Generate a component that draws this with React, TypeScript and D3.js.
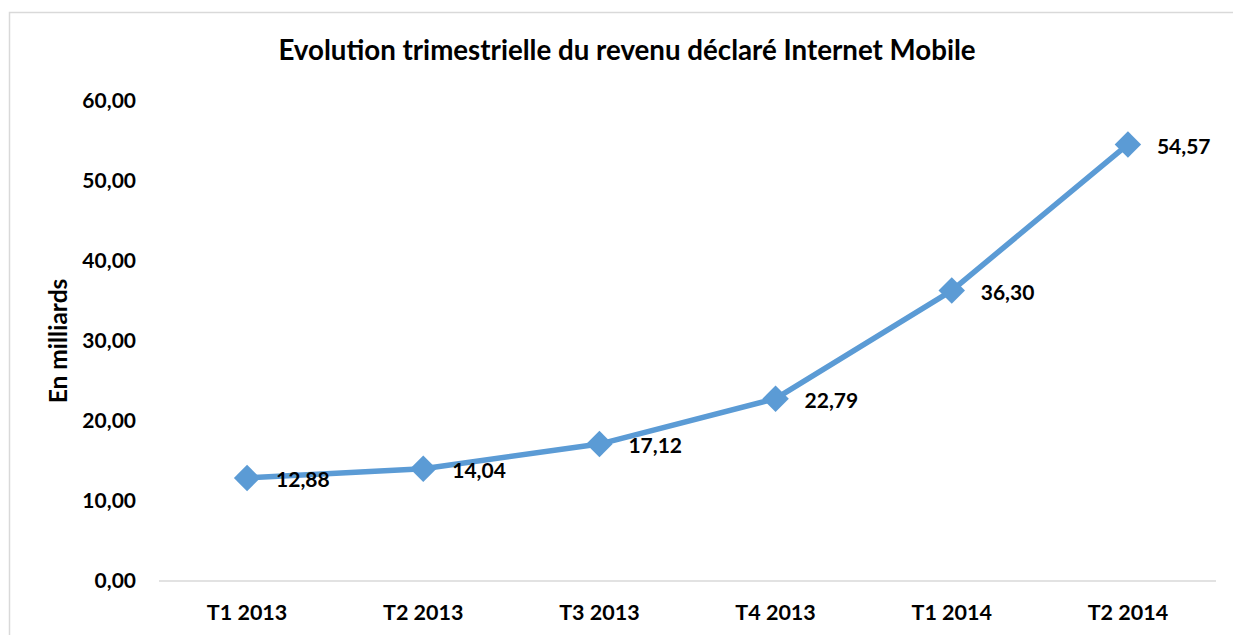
import * as d3 from "d3";
import React, { useEffect, useRef } from "react";

const categories = ["T1 2013", "T2 2013", "T3 2013", "T4 2013", "T1 2014", "T2 2014"];
const values = [12.88, 14.04, 17.12, 22.79, 36.3, 54.57];
const yTicks = [0, 10, 20, 30, 40, 50, 60];

const fmt = (v: number) => v.toFixed(2).replace(".", ",");

const App = () => {
  const ref = useRef<SVGSVGElement>(null);

  useEffect(() => {
    const width = 1233;
    const height = 635;
    const font = "Lato, 'Open Sans', sans-serif";
    const color = "#5B9BD5";

    const svg = d3.select(ref.current).attr("width", width).attr("height", height);
    svg.selectAll("*").remove();

    // chart frame (cropped on right and bottom)
    svg
      .append("rect")
      .attr("x", 9.5)
      .attr("y", 12.5)
      .attr("width", 1240)
      .attr("height", 660)
      .attr("fill", "#fff")
      .attr("stroke", "#d9d9d9")
      .attr("stroke-width", 1.5);

    const x = d3.scaleBand().domain(categories).range([159, 1216]);
    const y = d3.scaleLinear().domain([0, 60]).range([581, 101]);
    const cx = (c: string) => (x(c) as number) + x.bandwidth() / 2;

    svg
      .append("text")
      .attr("x", 627)
      .attr("y", 60)
      .attr("text-anchor", "middle")
      .attr("font-family", font)
      .attr("font-weight", "bold")
      .attr("font-size", 27.7)
      .text("Evolution trimestrielle du revenu déclaré Internet Mobile");

    // y tick labels
    svg
      .append("g")
      .selectAll("text")
      .data(yTicks)
      .join("text")
      .attr("x", 136)
      .attr("y", (d) => y(d))
      .attr("dy", "0.35em")
      .attr("text-anchor", "end")
      .attr("font-family", font)
      .attr("font-weight", "bold")
      .attr("font-size", 21)
      .text((d) => fmt(d));

    svg
      .append("text")
      .attr("transform", `translate(67, ${y(30)}) rotate(-90)`)
      .attr("text-anchor", "middle")
      .attr("font-family", font)
      .attr("font-weight", "bold")
      .attr("font-size", 24.5)
      .text("En milliards");

    // x axis line
    svg
      .append("line")
      .attr("x1", 159)
      .attr("x2", 1216)
      .attr("y1", y(0))
      .attr("y2", y(0))
      .attr("stroke", "#d9d9d9")
      .attr("stroke-width", 1.5);

    svg
      .append("g")
      .selectAll("text")
      .data(categories)
      .join("text")
      .attr("x", (d) => cx(d))
      .attr("y", 620)
      .attr("text-anchor", "middle")
      .attr("font-family", font)
      .attr("font-weight", "bold")
      .attr("font-size", 21.5)
      .text((d) => d);

    const line = d3
      .line<number>()
      .x((_, i) => cx(categories[i]))
      .y((d) => y(d));

    svg
      .append("path")
      .datum(values)
      .attr("d", line)
      .attr("fill", "none")
      .attr("stroke", color)
      .attr("stroke-width", 5.5)
      .attr("stroke-linejoin", "round");

    const diamond = d3.symbol().type(d3.symbolSquare).size(350);
    svg
      .append("g")
      .selectAll("path")
      .data(values)
      .join("path")
      .attr("d", diamond)
      .attr("transform", (d, i) => `translate(${cx(categories[i])}, ${y(d)}) rotate(45)`)
      .attr("fill", color);

    svg
      .append("g")
      .selectAll("text")
      .data(values)
      .join("text")
      .attr("x", (_, i) => cx(categories[i]) + 29)
      .attr("y", (d) => y(d) + 2)
      .attr("dy", "0.35em")
      .attr("font-family", font)
      .attr("font-weight", "bold")
      .attr("font-size", 21)
      .text((d) => fmt(d));
  }, []);

  return <svg ref={ref} style={{ position: "absolute", left: 0, top: 0, display: "block" }} />;
};

export default App;
